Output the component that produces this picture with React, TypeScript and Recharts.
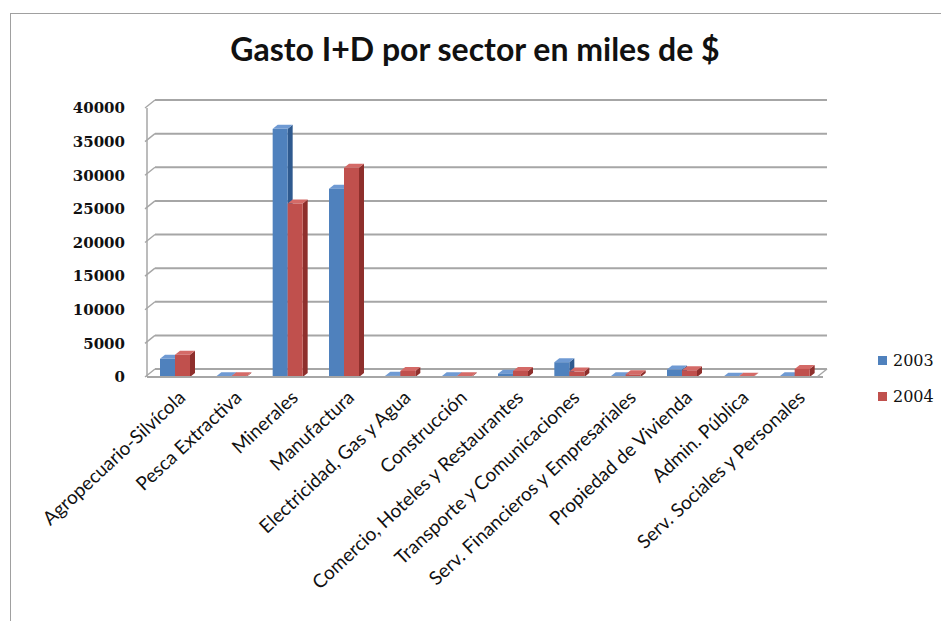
import React from 'react';
import { BarChart, Bar, XAxis, YAxis, CartesianGrid } from 'recharts';

const sectors = [
  'Agropecuario-Silvícola',
  'Pesca Extractiva',
  'Minerales',
  'Manufactura',
  'Electricidad, Gas y Agua',
  'Construcción',
  'Comercio, Hoteles y Restaurantes',
  'Transporte y Comunicaciones',
  'Serv. Financieros y Empresariales',
  'Propiedad de Vivienda',
  'Admin. Pública',
  'Serv. Sociales y Personales',
];

const gasto2003 = [2700, 100, 36900, 28000, 200, 100, 500, 2200, 100, 1100, 50, 100];
const gasto2004 = [3300, 100, 25800, 31100, 900, 100, 900, 800, 400, 1000, 50, 1200];

const yTicks = [0, 5000, 10000, 15000, 20000, 25000, 30000, 35000, 40000];

const data = sectors.map((sector, i) => ({
  sector,
  y2003: gasto2003[i],
  y2004: gasto2004[i],
}));

const palette = {
  y2003: { front: '#4F81BD', side: '#2F5A8F', top: '#6F9AD3' },
  y2004: { front: '#C0504D', side: '#8E2F2C', top: '#D46A67' },
};

const GRID = '#A6A6A6';
const DX = 5;
const DY = 4;

// fake 3d column: front face + right side + top
const Column3D = (props: any) => {
  const { x, y, width, height, colors } = props;
  if (x == null || y == null) return null;
  const h = Math.max(height, 0);
  const r = x + width;
  const b = y + h;
  return (
    <g>
      <polygon
        points={`${r},${y} ${r + DX},${y - DY} ${r + DX},${b - DY} ${r},${b}`}
        fill={colors.side}
      />
      <polygon
        points={`${x},${y} ${x + DX},${y - DY} ${r + DX},${y - DY} ${r},${y}`}
        fill={colors.top}
      />
      <rect x={x} y={y} width={width} height={h} fill={colors.front} />
    </g>
  );
};

// gridlines sit on the back wall, joined to the side wall by a short diagonal
const BackGridLine = (props: any) => {
  const { x1, x2, y1 } = props;
  const floor = y1 > 370;
  return (
    <g key={`g-${y1}`}>
      <line x1={x1 - 2} y1={y1} x2={x1 + 8} y2={y1 - 8} stroke={GRID} strokeWidth={1.5} />
      <line x1={x1 + 8} y1={y1 - 8} x2={x2 + 4} y2={y1 - 8} stroke={GRID} strokeWidth={2} />
      {floor && (
        <line x1={x2 - 6} y1={y1} x2={x2 + 4} y2={y1 - 8} stroke={GRID} strokeWidth={1.5} />
      )}
    </g>
  );
};

const CategoryTick = (props: any) => {
  const { x, y, payload } = props;
  const tx = x + 1;
  const ty = y + 3;
  return (
    <text
      x={tx}
      y={ty}
      transform={`rotate(-43, ${tx}, ${ty})`}
      textAnchor="end"
      dominantBaseline="hanging"
      fontFamily="Lato"
      fontSize={19}
      fill="#111"
    >
      {payload.value}
    </text>
  );
};

const legendItems = [
  { label: '2003', color: palette.y2003.front },
  { label: '2004', color: palette.y2004.front },
];

export default function App() {
  return (
    <div style={{ position: 'absolute', left: 0, top: 0, width: 941, height: 621, background: '#fff', overflow: 'hidden' }}>
      <div
        style={{
          position: 'absolute',
          left: 10,
          top: 13,
          width: 960,
          height: 640,
          borderLeft: '1.5px solid #A0A0A0',
          borderTop: '1.5px solid #A0A0A0',
        }}
      />
      <div
        style={{
          position: 'absolute',
          left: 0,
          width: 950,
          top: 29,
          textAlign: 'center',
          fontFamily: 'Lato',
          fontWeight: 700,
          fontSize: 32,
          color: '#111',
        }}
      >
        Gasto I+D por sector en miles de $
      </div>
      <div style={{ position: 'absolute', left: 0, top: 0 }}>
        <BarChart
          width={941}
          height={621}
          data={data}
          margin={{ top: 108, right: 118, left: 87, bottom: 0 }}
          barSize={15}
          barGap={0}
        >
          <CartesianGrid vertical={false} horizontal={BackGridLine} />
          <XAxis
            dataKey="sector"
            interval={0}
            height={244}
            tick={<CategoryTick />}
            tickLine={false}
            axisLine={{ stroke: GRID, strokeWidth: 2 }}
          />
          <YAxis
            domain={[0, 40000]}
            ticks={yTicks}
            width={60}
            tickLine={false}
            tickMargin={16}
            axisLine={{ stroke: GRID, strokeWidth: 1.5 }}
            tick={{ fontFamily: 'DejaVu Serif', fontWeight: 700, fontSize: 15, fill: '#111' }}
          />
          <Bar
            dataKey="y2003"
            name="2003"
            fill={palette.y2003.front}
            isAnimationActive={false}
            shape={(p: any) => <Column3D {...p} colors={palette.y2003} />}
          />
          <Bar
            dataKey="y2004"
            name="2004"
            fill={palette.y2004.front}
            isAnimationActive={false}
            shape={(p: any) => <Column3D {...p} colors={palette.y2004} />}
          />
        </BarChart>
      </div>
      <div style={{ position: 'absolute', left: 878, top: 342, fontFamily: 'DejaVu Serif', fontSize: 16, color: '#111' }}>
        {legendItems.map((item) => (
          <div key={item.label} style={{ display: 'flex', alignItems: 'center', height: 36 }}>
            <span
              style={{ width: 9, height: 9, background: item.color, display: 'inline-block', marginRight: 6 }}
            />
            {item.label}
          </div>
        ))}
      </div>
    </div>
  );
}
